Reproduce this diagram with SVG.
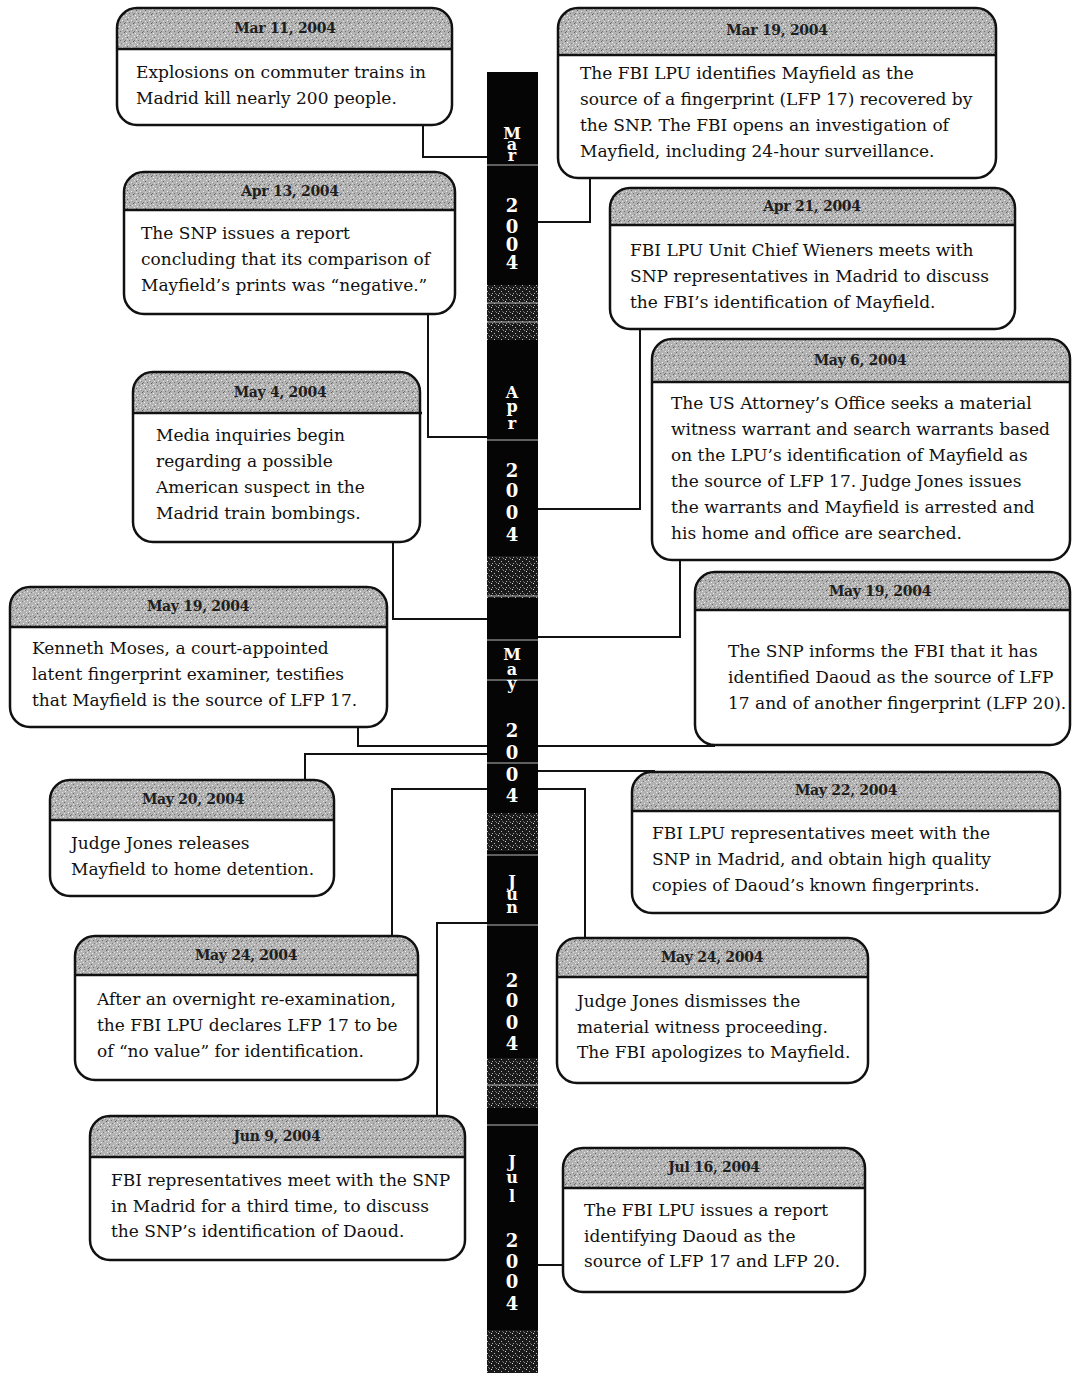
<svg xmlns="http://www.w3.org/2000/svg" width="1072" height="1373" viewBox="0 0 1072 1373">
<style>
  .box{fill:#fff;stroke:none}
  .outline{fill:none;stroke:#111;stroke-width:2.5}
  .hdr{fill:url(#stip);stroke:none}
  .div{stroke:#111;stroke-width:2.5}
  .date{font-family:"DejaVu Serif",serif;font-weight:bold;font-size:14px;fill:#1e1e1e;text-anchor:middle;letter-spacing:-0.3px}
  .body{font-family:"DejaVu Serif",serif;font-size:17px;fill:#111}
  .conn{fill:none;stroke:#111;stroke-width:2}
  .bl{font-family:"DejaVu Serif",serif;font-weight:bold;font-size:18px;fill:#fff;text-anchor:middle}
  .ml{font-size:16px}
  .wl{stroke:#bbb;stroke-width:1}
</style>
<defs>
  <pattern id="stip" width="9" height="9" patternUnits="userSpaceOnUse">
    <rect width="9" height="9" fill="#b3b3b3"/>
    <rect x="1" y="1" width="1" height="1" fill="#666"/>
    <rect x="5" y="2" width="1" height="1" fill="#eeeeee"/>
    <rect x="3" y="4" width="1" height="1" fill="#707070"/>
    <rect x="7" y="5" width="1" height="1" fill="#5e5e5e"/>
    <rect x="0" y="6" width="1" height="1" fill="#f2f2f2"/>
    <rect x="4" y="7" width="1" height="1" fill="#808080"/>
    <rect x="8" y="0" width="1" height="1" fill="#e8e8e8"/>
    <rect x="2" y="8" width="1" height="1" fill="#eee"/>
    <rect x="6" y="3" width="1" height="1" fill="#909090"/>
    <rect x="1" y="3" width="1" height="1" fill="#e0e0e0"/>
    <rect x="6" y="7" width="1" height="1" fill="#dcdcdc"/>
    <rect x="8" y="4" width="1" height="1" fill="#777"/>
  </pattern>
  <pattern id="noise" width="7" height="6" patternUnits="userSpaceOnUse">
    <rect width="7" height="6" fill="#1a1a1a"/>
    <rect x="1" y="1" width="1" height="1" fill="#ddd"/>
    <rect x="4" y="3" width="1" height="1" fill="#bbb"/>
    <rect x="6" y="0" width="1" height="1" fill="#888"/>
    <rect x="2" y="5" width="1" height="1" fill="#aaa"/>
    <rect x="5" y="5" width="1" height="1" fill="#666"/>
  </pattern>
</defs>
<rect width="1072" height="1373" fill="#fff"/>

<g id="timeline-bar">
  <rect x="487" y="72" width="51" height="1301" fill="#050505"/>
  <rect x="487" y="285" width="51" height="55" fill="url(#noise)"/>
  <rect x="487" y="556" width="51" height="42" fill="url(#noise)"/>
  <rect x="487" y="813" width="51" height="38" fill="url(#noise)"/>
  <rect x="487" y="1058" width="51" height="50" fill="url(#noise)"/>
  <rect x="487" y="1330" width="51" height="43" fill="url(#noise)"/>
  <line class="wl" x1="487" y1="165" x2="538" y2="165"/>
  <line class="wl" x1="487" y1="303" x2="538" y2="303"/>
  <line class="wl" x1="487" y1="322" x2="538" y2="322"/>
  <line class="wl" x1="487" y1="440" x2="538" y2="440"/>
  <line class="wl" x1="487" y1="596" x2="538" y2="596"/>
  <line class="wl" x1="487" y1="640" x2="538" y2="640"/>
  <line class="wl" x1="487" y1="680" x2="538" y2="680"/>
  <line class="wl" x1="487" y1="763" x2="538" y2="763"/>
  <line class="wl" x1="487" y1="855" x2="538" y2="855"/>
  <line class="wl" x1="487" y1="925" x2="538" y2="925"/>
  <line class="wl" x1="487" y1="1085" x2="538" y2="1085"/>
  <line class="wl" x1="487" y1="1125" x2="538" y2="1125"/>
  <text class="bl"><tspan class="ml" x="512" y="139">M</tspan><tspan class="ml" x="512" y="150">a</tspan><tspan class="ml" x="512" y="161">r</tspan><tspan x="512" y="212">2</tspan><tspan x="512" y="233">0</tspan><tspan x="512" y="251">0</tspan><tspan x="512" y="269">4</tspan></text>
  <text class="bl"><tspan class="ml" x="512" y="398">A</tspan><tspan class="ml" x="512" y="412">p</tspan><tspan class="ml" x="512" y="429">r</tspan><tspan x="512" y="477">2</tspan><tspan x="512" y="497">0</tspan><tspan x="512" y="519">0</tspan><tspan x="512" y="541">4</tspan></text>
  <text class="bl"><tspan class="ml" x="512" y="660">M</tspan><tspan class="ml" x="512" y="675">a</tspan><tspan class="ml" x="512" y="689">y</tspan><tspan x="512" y="737">2</tspan><tspan x="512" y="759">0</tspan><tspan x="512" y="781">0</tspan><tspan x="512" y="802">4</tspan></text>
  <text class="bl"><tspan class="ml" x="512" y="887">J</tspan><tspan class="ml" x="512" y="900">u</tspan><tspan class="ml" x="512" y="913">n</tspan><tspan x="512" y="987">2</tspan><tspan x="512" y="1007">0</tspan><tspan x="512" y="1029">0</tspan><tspan x="512" y="1050">4</tspan></text>
  <text class="bl"><tspan class="ml" x="512" y="1167">J</tspan><tspan class="ml" x="512" y="1183">u</tspan><tspan class="ml" x="512" y="1202">l</tspan><tspan x="512" y="1247">2</tspan><tspan x="512" y="1268">0</tspan><tspan x="512" y="1288">0</tspan><tspan x="512" y="1310">4</tspan></text>
</g>

<g id="connectors">
  <path class="conn" d="M423,125 V157 H487"/>
  <path class="conn" d="M590,178 V222 H538"/>
  <path class="conn" d="M428,314 V437 H487"/>
  <path class="conn" d="M640,329 V509 H538"/>
  <path class="conn" d="M393,542 V619 H487"/>
  <path class="conn" d="M680,560 V637 H538"/>
  <path class="conn" d="M358,727 V746 H487"/>
  <path class="conn" d="M538,746 H715"/>
  <path class="conn" d="M305,780 V754 H487"/>
  <path class="conn" d="M538,771 H655"/>
  <path class="conn" d="M392,936 V789 H487"/>
  <path class="conn" d="M585,938 V789 H538"/>
  <path class="conn" d="M437,1116 V923 H487"/>
  <path class="conn" d="M538,1265 H563"/>
</g>

<g id="n1">
  <rect class="box" x="117" y="8" width="335" height="117" rx="20"/>
  <path class="hdr" d="M117,49 V28 A20,20 0 0 1 137,8 H432 A20,20 0 0 1 452,28 V49 Z"/>
  <line class="div" x1="117" y1="49" x2="453" y2="49"/>
  <rect class="outline" x="117" y="8" width="335" height="117" rx="20"/>
  <text class="date" x="285" y="33">Mar 11, 2004</text>
  <text class="body"><tspan x="136" y="78">Explosions on commuter trains in</tspan><tspan x="136" y="104">Madrid kill nearly 200 people.</tspan></text>
</g>

<g id="n2">
  <rect class="box" x="558" y="8" width="438" height="170" rx="20"/>
  <path class="hdr" d="M558,55 V28 A20,20 0 0 1 578,8 H976 A20,20 0 0 1 996,28 V55 Z"/>
  <line class="div" x1="558" y1="55" x2="997" y2="55"/>
  <rect class="outline" x="558" y="8" width="438" height="170" rx="20"/>
  <text class="date" x="777" y="35">Mar 19, 2004</text>
  <text class="body"><tspan x="580" y="79">The FBI LPU identifies Mayfield as the</tspan><tspan x="580" y="105">source of a fingerprint (LFP 17) recovered by</tspan><tspan x="580" y="131">the SNP.  The FBI opens an investigation of</tspan><tspan x="580" y="157">Mayfield, including 24-hour surveillance.</tspan></text>
</g>

<g id="n3">
  <rect class="box" x="124" y="172" width="331" height="142" rx="20"/>
  <path class="hdr" d="M124,210 V192 A20,20 0 0 1 144,172 H435 A20,20 0 0 1 455,192 V210 Z"/>
  <line class="div" x1="124" y1="210" x2="456" y2="210"/>
  <rect class="outline" x="124" y="172" width="331" height="142" rx="20"/>
  <text class="date" x="290" y="196">Apr 13, 2004</text>
  <text class="body"><tspan x="141" y="239">The SNP issues a report</tspan><tspan x="141" y="265">concluding that its comparison of</tspan><tspan x="141" y="291">Mayfield’s prints was “negative.”</tspan></text>
</g>

<g id="n4">
  <rect class="box" x="610" y="188" width="405" height="141" rx="20"/>
  <path class="hdr" d="M610,225 V208 A20,20 0 0 1 630,188 H995 A20,20 0 0 1 1015,208 V225 Z"/>
  <line class="div" x1="610" y1="225" x2="1016" y2="225"/>
  <rect class="outline" x="610" y="188" width="405" height="141" rx="20"/>
  <text class="date" x="812" y="211">Apr 21, 2004</text>
  <text class="body"><tspan x="630" y="256">FBI LPU Unit Chief Wieners meets with</tspan><tspan x="630" y="282">SNP representatives in Madrid to discuss</tspan><tspan x="630" y="308">the FBI’s identification of Mayfield.</tspan></text>
</g>

<g id="n5">
  <rect class="box" x="133" y="372" width="287" height="170" rx="20"/>
  <path class="hdr" d="M133,413 V392 A20,20 0 0 1 153,372 H400 A20,20 0 0 1 420,392 V413 Z"/>
  <line class="div" x1="133" y1="413" x2="422" y2="413"/>
  <rect class="outline" x="133" y="372" width="287" height="170" rx="20"/>
  <text class="date" x="280" y="397">May 4, 2004</text>
  <text class="body"><tspan x="156" y="441">Media inquiries begin</tspan><tspan x="156" y="467">regarding a possible</tspan><tspan x="156" y="493">American suspect in the</tspan><tspan x="156" y="519">Madrid train bombings.</tspan></text>
</g>

<g id="n6">
  <rect class="box" x="652" y="339" width="418" height="221" rx="20"/>
  <path class="hdr" d="M652,382 V359 A20,20 0 0 1 672,339 H1050 A20,20 0 0 1 1070,359 V382 Z"/>
  <line class="div" x1="652" y1="382" x2="1071" y2="382"/>
  <rect class="outline" x="652" y="339" width="418" height="221" rx="20"/>
  <text class="date" x="860" y="365">May 6, 2004</text>
  <text class="body"><tspan x="671" y="409">The US Attorney’s Office seeks a material</tspan><tspan x="671" y="435">witness warrant and search warrants based</tspan><tspan x="671" y="461">on the LPU’s identification of Mayfield as</tspan><tspan x="671" y="487">the source of LFP 17.  Judge Jones issues</tspan><tspan x="671" y="513">the warrants and Mayfield is arrested and</tspan><tspan x="671" y="539">his home and office are searched.</tspan></text>
</g>

<g id="n7">
  <rect class="box" x="10" y="587" width="377" height="140" rx="20"/>
  <path class="hdr" d="M10,627 V607 A20,20 0 0 1 30,587 H367 A20,20 0 0 1 387,607 V627 Z"/>
  <line class="div" x1="10" y1="627" x2="388" y2="627"/>
  <rect class="outline" x="10" y="587" width="377" height="140" rx="20"/>
  <text class="date" x="198" y="611">May 19, 2004</text>
  <text class="body"><tspan x="32" y="654">Kenneth Moses, a court-appointed</tspan><tspan x="32" y="680">latent fingerprint examiner, testifies</tspan><tspan x="32" y="706">that Mayfield is the source of LFP 17.</tspan></text>
</g>

<g id="n8">
  <rect class="box" x="695" y="572" width="375" height="173" rx="20"/>
  <path class="hdr" d="M695,610 V592 A20,20 0 0 1 715,572 H1050 A20,20 0 0 1 1070,592 V610 Z"/>
  <line class="div" x1="695" y1="610" x2="1071" y2="610"/>
  <rect class="outline" x="695" y="572" width="375" height="173" rx="20"/>
  <text class="date" x="880" y="596">May 19, 2004</text>
  <text class="body"><tspan x="728" y="657">The SNP informs the FBI that it has</tspan><tspan x="728" y="683">identified Daoud as the source of LFP</tspan><tspan x="728" y="709">17 and of another fingerprint (LFP 20).</tspan></text>
</g>

<g id="n9">
  <rect class="box" x="50" y="780" width="284" height="116" rx="20"/>
  <path class="hdr" d="M50,820 V800 A20,20 0 0 1 70,780 H314 A20,20 0 0 1 334,800 V820 Z"/>
  <line class="div" x1="50" y1="820" x2="335" y2="820"/>
  <rect class="outline" x="50" y="780" width="284" height="116" rx="20"/>
  <text class="date" x="193" y="804">May 20, 2004</text>
  <text class="body"><tspan x="71" y="849">Judge Jones releases</tspan><tspan x="71" y="875">Mayfield to home detention.</tspan></text>
</g>

<g id="n10">
  <rect class="box" x="632" y="772" width="428" height="141" rx="20"/>
  <path class="hdr" d="M632,811 V792 A20,20 0 0 1 652,772 H1040 A20,20 0 0 1 1060,792 V811 Z"/>
  <line class="div" x1="632" y1="811" x2="1061" y2="811"/>
  <rect class="outline" x="632" y="772" width="428" height="141" rx="20"/>
  <text class="date" x="846" y="795">May 22, 2004</text>
  <text class="body"><tspan x="652" y="839">FBI LPU representatives meet with the</tspan><tspan x="652" y="865">SNP in Madrid, and obtain high quality</tspan><tspan x="652" y="891">copies of Daoud’s known fingerprints.</tspan></text>
</g>

<g id="n11">
  <rect class="box" x="75" y="936" width="343" height="144" rx="20"/>
  <path class="hdr" d="M75,975 V956 A20,20 0 0 1 95,936 H398 A20,20 0 0 1 418,956 V975 Z"/>
  <line class="div" x1="75" y1="975" x2="419" y2="975"/>
  <rect class="outline" x="75" y="936" width="343" height="144" rx="20"/>
  <text class="date" x="246" y="960">May 24, 2004</text>
  <text class="body"><tspan x="97" y="1005">After an overnight re-examination,</tspan><tspan x="97" y="1031">the FBI LPU declares LFP 17 to be</tspan><tspan x="97" y="1057">of “no value” for identification.</tspan></text>
</g>

<g id="n12">
  <rect class="box" x="557" y="938" width="311" height="145" rx="20"/>
  <path class="hdr" d="M557,977 V958 A20,20 0 0 1 577,938 H848 A20,20 0 0 1 868,958 V977 Z"/>
  <line class="div" x1="557" y1="977" x2="869" y2="977"/>
  <rect class="outline" x="557" y="938" width="311" height="145" rx="20"/>
  <text class="date" x="712" y="962">May 24, 2004</text>
  <text class="body"><tspan x="577" y="1007">Judge Jones dismisses the</tspan><tspan x="577" y="1033">material witness proceeding.</tspan><tspan x="577" y="1058">The FBI apologizes to Mayfield.</tspan></text>
</g>

<g id="n13">
  <rect class="box" x="90" y="1116" width="375" height="144" rx="20"/>
  <path class="hdr" d="M90,1157 V1136 A20,20 0 0 1 110,1116 H445 A20,20 0 0 1 465,1136 V1157 Z"/>
  <line class="div" x1="90" y1="1157" x2="466" y2="1157"/>
  <rect class="outline" x="90" y="1116" width="375" height="144" rx="20"/>
  <text class="date" x="277" y="1141">Jun 9, 2004</text>
  <text class="body"><tspan x="111" y="1186">FBI representatives meet with the SNP</tspan><tspan x="111" y="1212">in Madrid for a third time, to discuss</tspan><tspan x="111" y="1237">the SNP’s identification of Daoud.</tspan></text>
</g>

<g id="n14">
  <rect class="box" x="563" y="1148" width="302" height="144" rx="20"/>
  <path class="hdr" d="M563,1188 V1168 A20,20 0 0 1 583,1148 H845 A20,20 0 0 1 865,1168 V1188 Z"/>
  <line class="div" x1="563" y1="1188" x2="866" y2="1188"/>
  <rect class="outline" x="563" y="1148" width="302" height="144" rx="20"/>
  <text class="date" x="714" y="1172">Jul 16, 2004</text>
  <text class="body"><tspan x="584" y="1216">The FBI LPU issues a report</tspan><tspan x="584" y="1242">identifying Daoud as the</tspan><tspan x="584" y="1267">source of LFP 17 and LFP 20.</tspan></text>
</g>
</svg>
